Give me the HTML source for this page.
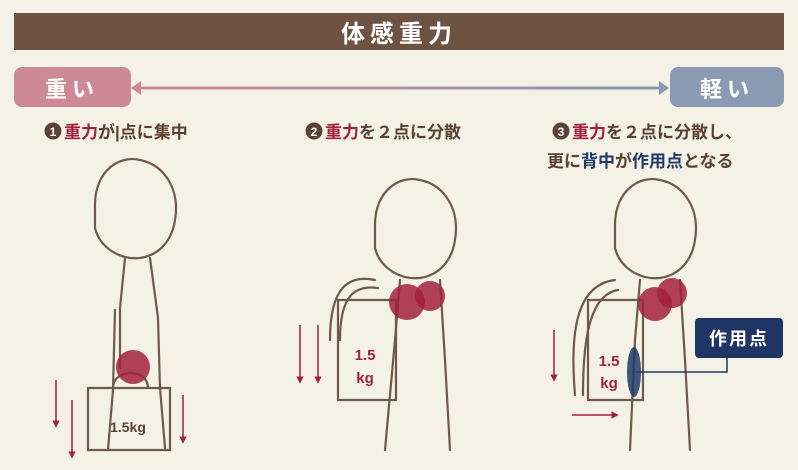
<!DOCTYPE html>
<html><head><meta charset="utf-8"><style>
body{margin:0;background:#f4f2e7;}
svg{display:block}
text{font-family:"Liberation Sans","Noto Sans CJK JP",sans-serif;font-weight:bold}
</style></head><body>
<svg width="798" height="470" viewBox="0 0 798 470" xmlns="http://www.w3.org/2000/svg">
<defs>
<linearGradient id="g" gradientUnits="userSpaceOnUse" x1="140" y1="0" x2="660" y2="0"><stop offset="0" stop-color="#cd8a96"/><stop offset="1" stop-color="#8a9ab2"/></linearGradient>
<marker id="ar" viewBox="0 0 10 10" refX="5" refY="5" markerWidth="5" markerHeight="5" orient="auto"><path d="M0,0L10,5L0,10z" fill="#a3213d"/></marker>
</defs>
<rect width="798" height="470" fill="#f4f2e7"/>
<rect x="14" y="13" width="770" height="37" fill="#6e5242"/>
<text x="399" y="42" font-size="24" fill="#fff" text-anchor="middle" letter-spacing="5">体感重力</text>
<rect x="14" y="67" width="117" height="40" rx="8" fill="#cd8a96"/>
<text x="72" y="97" font-size="22" fill="#fff" text-anchor="middle" letter-spacing="5">重い</text>
<rect x="670" y="67" width="114" height="40" rx="8" fill="#8a9ab2"/>
<text x="727" y="97" font-size="22" fill="#fff" text-anchor="middle" letter-spacing="5">軽い</text>
<rect x="138" y="86.5" width="524" height="3" fill="url(#g)"/>
<path d="M131,88l10,-7v14z" fill="#cd8a96"/><path d="M669,88l-10,-7v14z" fill="#8a9ab2"/>
<g font-size="17">
<circle cx="53" cy="131" r="8.5" fill="#5b4233"/><text x="53" y="136" font-size="12" fill="#fff" text-anchor="middle">1</text>
<text x="64" y="138" fill="#5b4233"><tspan fill="#a3213d">重力</tspan>が|点に集中</text>
<circle cx="314" cy="131" r="8.5" fill="#5b4233"/><text x="314" y="136" font-size="12" fill="#fff" text-anchor="middle">2</text>
<text x="325" y="138" fill="#5b4233"><tspan fill="#a3213d">重力</tspan>を２点に分散</text>
<circle cx="561" cy="131" r="8.5" fill="#5b4233"/><text x="561" y="136" font-size="12" fill="#fff" text-anchor="middle">3</text>
<text x="572" y="138" fill="#5b4233"><tspan fill="#a3213d">重力</tspan>を２点に分散し、</text>
<text x="547" y="167" fill="#5b4233">更に<tspan fill="#1f3b66">背中</tspan>が<tspan fill="#1f3b66">作用点</tspan>となる</text>
</g>
<g fill="none" stroke="#6e5a4c" stroke-width="2.2" stroke-linecap="round">
<path d="M95,205c0,-35 25,-50 45,-45c25,5 40,30 35,60c-3,20 -15,35 -35,38c-20,2 -40,-10 -45,-30z"/>
<path d="M125,258l-5,50l0,60M150,258l8,60l2,70l5,60M115,310l-2,80l-5,60"/>
<path d="M88,388h82v62h-82z"/>
<path d="M113,388c0,-20 35,-20 35,0"/>
<path d="M375,225c0,-35 25,-50 45,-45c25,5 40,30 35,60c-3,20 -15,35 -35,38c-20,2 -40,-10 -45,-30z"/>
<path d="M330,340c0,-55 20,-65 45,-60M340,340c0,-45 15,-55 38,-52"/>
<path d="M338,300h58v100h-58z"/>
<path d="M400,280l-5,60l-10,110M440,280l5,80l5,90"/>
<path d="M615,225c0,-35 25,-50 45,-45c25,5 40,30 35,60c-3,20 -15,35 -35,38c-20,2 -40,-10 -45,-30z"/>
<path d="M575,395c-5,-60 0,-110 40,-115M583,395c0,-50 5,-100 35,-105"/>
<path d="M588,300h55v100h-55z"/>
<path d="M640,280l-5,60l-5,110M680,280l5,80l5,90"/>
</g>
<g fill="#a3213d" fill-opacity="0.85">
<circle cx="133" cy="367" r="17"/>
<circle cx="430" cy="296" r="15"/><circle cx="407" cy="302" r="18"/>
<circle cx="672" cy="293" r="15"/><circle cx="655" cy="304" r="17"/>
</g>
<g stroke="#a3213d" stroke-width="1.5" marker-end="url(#ar)">
<line x1="56" y1="380" x2="56" y2="424"/><line x1="72" y1="400" x2="72" y2="455"/><line x1="183" y1="395" x2="183" y2="440"/>
<line x1="300" y1="325" x2="300" y2="380"/><line x1="318" y1="325" x2="318" y2="380"/>
<line x1="554" y1="330" x2="554" y2="378"/><line x1="572" y1="415" x2="615" y2="415"/>
</g>
<text x="128" y="432" font-size="14" fill="#5b4233" text-anchor="middle">1.5kg</text>
<text x="365" y="360" font-size="15" fill="#a3213d" text-anchor="middle">1.5</text>
<text x="365" y="383" font-size="15" fill="#a3213d" text-anchor="middle">kg</text>
<text x="609" y="366" font-size="15" fill="#a3213d" text-anchor="middle">1.5</text>
<text x="609" y="388" font-size="15" fill="#a3213d" text-anchor="middle">kg</text>
<ellipse cx="634" cy="372" rx="7" ry="25" fill="#1f3b66" fill-opacity="0.85"/>
<path d="M636,372H727V358" fill="none" stroke="#1f3b66" stroke-width="1.5"/>
<rect x="695" y="318" width="88" height="40" rx="4" fill="#1f3566"/>
<text x="739" y="345" font-size="18" fill="#fff" text-anchor="middle" letter-spacing="2">作用点</text>
</svg>
</body></html>
